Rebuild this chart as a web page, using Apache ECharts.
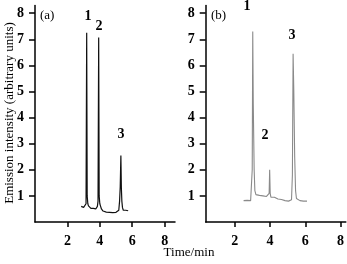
<!DOCTYPE html>
<html><head><meta charset="utf-8">
<script src="https://cdn.jsdelivr.net/npm/echarts@6/dist/echarts.min.js"></script>
<style>html,body{margin:0;padding:0;background:#fff}#c{width:347px;height:264px}</style>
</head><body><div id="c"></div>
<script>
var xTicks = [2, 4, 6, 8];
var yTicks = [1, 2, 3, 4, 5, 6, 7, 8];
var traceA = [[2.85,0.6],[2.9,0.58],[2.95,0.6],[3.0,0.56],[3.05,0.6],[3.1,0.55],[3.15,0.7],[3.19,7.25],[3.22,1.0],[3.26,0.7],[3.3,0.62],[3.35,0.55],[3.4,0.6],[3.45,0.52],[3.5,0.55],[3.55,0.5],[3.6,0.52],[3.65,0.5],[3.7,0.52],[3.75,0.5],[3.8,0.55],[3.85,0.6],[3.89,0.8],[3.93,7.07],[3.96,1.0],[4.0,0.7],[4.05,0.6],[4.1,0.5],[4.15,0.45],[4.2,0.42],[4.25,0.45],[4.3,0.4],[4.4,0.38],[4.5,0.4],[4.6,0.37],[4.7,0.38],[4.8,0.36],[4.9,0.38],[5.0,0.37],[5.1,0.4],[5.17,0.45],[5.22,0.8],[5.26,1.35],[5.3,2.55],[5.33,1.3],[5.36,0.8],[5.4,0.55],[5.45,0.45],[5.5,0.5],[5.55,0.42],[5.6,0.45],[5.65,0.4],[5.7,0.46],[5.75,0.43]];
var traceB = [[2.5,0.82],[2.6,0.8],[2.7,0.83],[2.8,0.8],[2.9,0.82],[2.95,0.85],[2.99,2.0],[3.02,7.3],[3.05,4.5],[3.1,2.0],[3.14,1.2],[3.2,1.05],[3.3,1.0],[3.4,1.02],[3.5,0.98],[3.6,1.0],[3.7,0.95],[3.8,0.98],[3.9,0.95],[3.95,1.1],[3.98,2.0],[4.01,1.1],[4.05,0.95],[4.15,0.92],[4.25,0.95],[4.35,0.9],[4.45,0.88],[4.55,0.9],[4.65,0.86],[4.75,0.85],[4.85,0.82],[4.95,0.84],[5.05,0.8],[5.15,0.82],[5.22,0.85],[5.27,1.8],[5.31,6.45],[5.35,5.0],[5.4,2.5],[5.45,1.2],[5.5,0.9],[5.6,0.85],[5.7,0.82],[5.8,0.86],[5.9,0.8],[6.0,0.84],[6.1,0.8]];
var yTitle = 'Emission intensity (arbitrary units)';
var xTitle = 'Time/min';
var panelLabels = ['(a)', '(b)'];
var peakLabels = ['1', '2', '3'];

var serif = '"Liberation Serif", "DejaVu Serif", serif';
var chart = echarts.init(document.getElementById('c'), null, {renderer: 'canvas'});
function xAx(idx, min, max) {
  return {
    gridIndex: idx, type: 'value', min: min, max: max,
    axisLine: {show: true, lineStyle: {color: '#000', width: 1.5}},
    axisTick: {show: true, length: 5, lineStyle: {color: '#000', width: 1.5},
      customValues: xTicks},
    axisLabel: {show: true, color: '#000', fontFamily: serif, fontWeight: 'bold', fontSize: 14, margin: 12,
      customValues: xTicks},
    splitLine: {show: false}
  };
}
function yAx(idx) {
  return {
    gridIndex: idx, type: 'value', min: 0, max: 8.3,
    axisLine: {show: true, lineStyle: {color: '#000', width: 1.5}},
    axisTick: {show: true, length: 6, lineStyle: {color: '#000', width: 1.5}, customValues: yTicks},
    axisLabel: {show: true, color: '#000', fontFamily: serif, fontWeight: 'bold', fontSize: 14, margin: 11,
      customValues: yTicks},
    splitLine: {show: false}
  };
}
var opt = {
  animation: false,
  grid: [
    {left: 35, top: 5.4, width: 140, height: 216.6},
    {left: 205.7, top: 5.4, width: 140.7, height: 216.6}
  ],
  xAxis: [xAx(0, 0, 8.64), xAx(1, 0.35, 8.3)],
  yAxis: [yAx(0), yAx(1)],
  series: [
    {type: 'line', xAxisIndex: 0, yAxisIndex: 0, data: traceA, showSymbol: false,
      lineStyle: {color: '#111', width: 1.2}},
    {type: 'line', xAxisIndex: 1, yAxisIndex: 1, data: traceB, showSymbol: false,
      lineStyle: {color: '#8a8a8a', width: 1.1}}
  ],
  graphic: [
    {type: 'text', x: 10, y: 113, rotation: Math.PI / 2, style: {text: yTitle, font: '13px ' + serif, fill: '#000', align: 'center', verticalAlign: 'middle'}},
    {type: 'text', x: 189, y: 253, style: {text: xTitle, font: '13px ' + serif, fill: '#000', align: 'center', verticalAlign: 'middle'}},
    {type: 'text', x: 40, y: 16, style: {text: panelLabels[0], font: '13px ' + serif, fill: '#000', align: 'left', verticalAlign: 'middle'}},
    {type: 'text', x: 211, y: 16, style: {text: panelLabels[1], font: '13px ' + serif, fill: '#000', align: 'left', verticalAlign: 'middle'}},
    {type: 'text', x: 88, y: 16, style: {text: peakLabels[0], font: 'bold 14px ' + serif, fill: '#000', align: 'center', verticalAlign: 'middle'}},
    {type: 'text', x: 99, y: 26, style: {text: peakLabels[1], font: 'bold 14px ' + serif, fill: '#000', align: 'center', verticalAlign: 'middle'}},
    {type: 'text', x: 121, y: 134, style: {text: peakLabels[2], font: 'bold 14px ' + serif, fill: '#000', align: 'center', verticalAlign: 'middle'}},
    {type: 'text', x: 247, y: 6, style: {text: peakLabels[0], font: 'bold 14px ' + serif, fill: '#000', align: 'center', verticalAlign: 'middle'}},
    {type: 'text', x: 265, y: 135, style: {text: peakLabels[1], font: 'bold 14px ' + serif, fill: '#000', align: 'center', verticalAlign: 'middle'}},
    {type: 'text', x: 292, y: 35, style: {text: peakLabels[2], font: 'bold 14px ' + serif, fill: '#000', align: 'center', verticalAlign: 'middle'}}
  ]
};
chart.setOption(opt);
</script></body></html>
